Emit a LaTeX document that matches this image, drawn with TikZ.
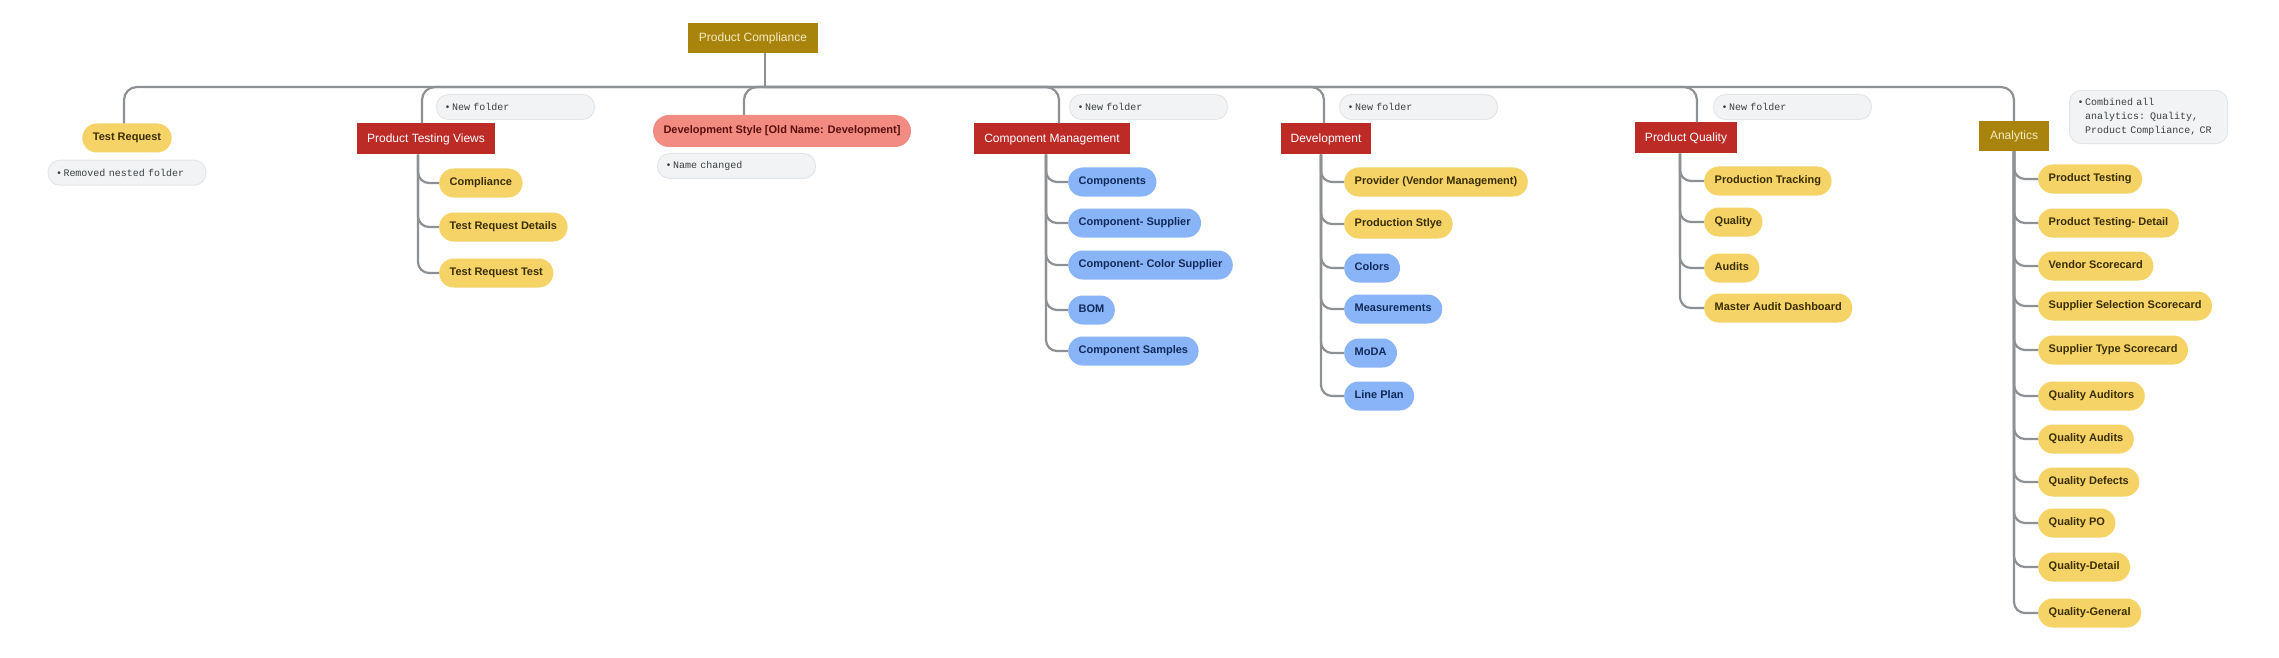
\documentclass[tikz,border=0pt]{standalone}
\usepackage{fontspec}
\setmainfont{Liberation Sans}
\setmonofont{Liberation Mono}
\usetikzlibrary{positioning}

\definecolor{rootgold}{HTML}{A8840C}
\definecolor{roottext}{HTML}{F6EBC2}
\definecolor{folderred}{HTML}{BC2B26}
\definecolor{leafyellow}{HTML}{F5D366}
\definecolor{leafytext}{HTML}{3A2E00}
\definecolor{leafblue}{HTML}{8AB4F8}
\definecolor{leafbtext}{HTML}{102A5A}
\definecolor{leafsalmon}{HTML}{F28B82}
\definecolor{leafrtext}{HTML}{5B100C}
\definecolor{notegrey}{HTML}{F1F3F4}
\definecolor{noteedge}{HTML}{E3E6E8}
\definecolor{notetext}{HTML}{3C4043}
\definecolor{linegrey}{HTML}{8E9194}

\newcommand{\nbul}{•\kern1.5pt}

\begin{document}
\begin{tikzpicture}[x=1pt,y=-1pt,
  conn/.style={draw=linegrey,line width=2.2pt},
  rootbox/.style={rectangle,fill=rootgold,text=roottext,minimum height=30pt,inner xsep=11pt,inner ysep=2pt,font=\fontsize{12}{14}\selectfont,text height=8.6pt,text depth=2.5pt},
  folderbox/.style={rectangle,fill=folderred,text=white,minimum height=31pt,inner xsep=10pt,inner ysep=2pt,font=\fontsize{12}{14}\selectfont,text height=8.6pt,text depth=2.5pt},
  leafy/.style={rectangle,rounded corners=14.5pt,fill=leafyellow,text=leafytext,minimum height=29pt,inner xsep=10.5pt,inner ysep=2pt,font=\bfseries\fontsize{11}{13}\selectfont,text height=8pt,text depth=2.3pt},
  leafb/.style={leafy,fill=leafblue,text=leafbtext},
  leafr/.style={leafy,fill=leafsalmon,text=leafrtext,minimum height=32pt,rounded corners=16pt},
  note/.style={rectangle,rounded corners=12pt,fill=notegrey,draw=noteedge,line width=1pt,text=notetext,text width=142pt,align=left,inner xsep=8pt,inner ysep=4pt,minimum height=25pt,font=\ttfamily\fontsize{10}{14}\selectfont}]
\fill[white] (0,0) rectangle (2279,658);
\useasboundingbox (0,0) rectangle (2279,658);

% top level
\node[rootbox] (root) at (753,38) {Product Compliance};
\node[leafy] (tr) at (127,138) {Test Request};
\node[folderbox] (ptv) at (426,139) {Product Testing Views};
\node[leafr] (dst) at (782,131) {Development Style [Old Name: Development]};
\node[folderbox] (cm) at (1052,139) {Component Management};
\node[folderbox] (dev) at (1326,139) {Development};
\node[folderbox] (pq) at (1686,138) {Product Quality};
\node[rootbox] (an) at (2014,136) {Analytics};

% notes
\node[note, below=7pt of tr] (trnote) {\nbul Removed nested folder};
\node[note, anchor=west] (ptvnote) at (436,107) {\nbul New folder};
\node[note, anchor=west] (dstnote) at (657,166) {\nbul Name changed};
\node[note, anchor=west] (cmnote) at (1069,107) {\nbul New folder};
\node[note, anchor=west] (devnote) at (1339,107) {\nbul New folder};
\node[note, anchor=west] (pqnote) at (1713,107) {\nbul New folder};
\node[note, anchor=west, inner ysep=8pt] (annote) at (2069,117) {\nbul Combined all\\\hspace*{7.5pt}analytics: Quality,\\\hspace*{7.5pt}Product Compliance, CR};

% Product Testing Views
\node[leafy, anchor=west] (ptv1) at (439,183) {Compliance};
\node[leafy, anchor=west] (ptv2) at (439,227) {Test Request Details};
\node[leafy, anchor=west] (ptv3) at (439,273) {Test Request Test};

% Component Management
\node[leafb, anchor=west] (cm1) at (1068,182) {Components};
\node[leafb, anchor=west] (cm2) at (1068,223) {Component- Supplier};
\node[leafb, anchor=west] (cm3) at (1068,265) {Component- Color Supplier};
\node[leafb, anchor=west] (cm4) at (1068,310) {BOM};
\node[leafb, anchor=west] (cm5) at (1068,351) {Component Samples};

% Development
\node[leafy, anchor=west] (dev1) at (1344,182) {Provider (Vendor Management)};
\node[leafy, anchor=west] (dev2) at (1344,224) {Production Stlye};
\node[leafb, anchor=west] (dev3) at (1344,268) {Colors};
\node[leafb, anchor=west] (dev4) at (1344,309) {Measurements};
\node[leafb, anchor=west] (dev5) at (1344,353) {MoDA};
\node[leafb, anchor=west] (dev6) at (1344,396) {Line Plan};

% Product Quality
\node[leafy, anchor=west] (pq1) at (1704,181) {Production Tracking};
\node[leafy, anchor=west] (pq2) at (1704,222) {Quality};
\node[leafy, anchor=west] (pq3) at (1704,268) {Audits};
\node[leafy, anchor=west] (pq4) at (1704,308) {Master Audit Dashboard};

% Analytics
\node[leafy, anchor=west] (an1) at (2038,179) {Product Testing};
\node[leafy, anchor=west] (an2) at (2038,223) {Product Testing- Detail};
\node[leafy, anchor=west] (an3) at (2038,266) {Vendor Scorecard};
\node[leafy, anchor=west] (an4) at (2038,306) {Supplier Selection Scorecard};
\node[leafy, anchor=west] (an5) at (2038,350) {Supplier Type Scorecard};
\node[leafy, anchor=west] (an6) at (2038,396) {Quality Auditors};
\node[leafy, anchor=west] (an7) at (2038,439) {Quality Audits};
\node[leafy, anchor=west] (an8) at (2038,482) {Quality Defects};
\node[leafy, anchor=west] (an9) at (2038,523) {Quality PO};
\node[leafy, anchor=west] (an10) at (2038,567) {Quality-Detail};
\node[leafy, anchor=west] (an11) at (2038,613) {Quality-General};

% bus
\coordinate (hub) at (765,87);
\draw[conn] ([xshift=12pt]root.south) -- (hub);
\draw[conn,rounded corners=13pt] (hub) -| ([xshift=-3pt]tr.north);
\draw[conn,rounded corners=13pt] (hub) -| ([xshift=-4pt]ptv.north);
\draw[conn,rounded corners=13pt] (hub) -| ([xshift=-38pt]dst.north);
\draw[conn,rounded corners=13pt] (hub) -| ([xshift=7pt]cm.north);
\draw[conn,rounded corners=13pt] (hub) -| ([xshift=-2pt]dev.north);
\draw[conn,rounded corners=13pt] (hub) -| ([xshift=11pt]pq.north);
\draw[conn,rounded corners=13pt] (hub) -| (an.north);

% children
\draw[conn,rounded corners=11pt] ([xshift=-8pt]ptv.south) |- (ptv1.west);
\draw[conn,rounded corners=11pt] ([xshift=-8pt]ptv.south) |- (ptv2.west);
\draw[conn,rounded corners=11pt] ([xshift=-8pt]ptv.south) |- (ptv3.west);

\draw[conn,rounded corners=11pt] ([xshift=-6pt]cm.south) |- (cm1.west);
\draw[conn,rounded corners=11pt] ([xshift=-6pt]cm.south) |- (cm2.west);
\draw[conn,rounded corners=11pt] ([xshift=-6pt]cm.south) |- (cm3.west);
\draw[conn,rounded corners=11pt] ([xshift=-6pt]cm.south) |- (cm4.west);
\draw[conn,rounded corners=11pt] ([xshift=-6pt]cm.south) |- (cm5.west);

\draw[conn,rounded corners=11pt] ([xshift=-5pt]dev.south) |- (dev1.west);
\draw[conn,rounded corners=11pt] ([xshift=-5pt]dev.south) |- (dev2.west);
\draw[conn,rounded corners=11pt] ([xshift=-5pt]dev.south) |- (dev3.west);
\draw[conn,rounded corners=11pt] ([xshift=-5pt]dev.south) |- (dev4.west);
\draw[conn,rounded corners=11pt] ([xshift=-5pt]dev.south) |- (dev5.west);
\draw[conn,rounded corners=11pt] ([xshift=-5pt]dev.south) |- (dev6.west);

\draw[conn,rounded corners=11pt] ([xshift=-6pt]pq.south) |- (pq1.west);
\draw[conn,rounded corners=11pt] ([xshift=-6pt]pq.south) |- (pq2.west);
\draw[conn,rounded corners=11pt] ([xshift=-6pt]pq.south) |- (pq3.west);
\draw[conn,rounded corners=11pt] ([xshift=-6pt]pq.south) |- (pq4.west);

\draw[conn,rounded corners=11pt] (an.south) |- (an1.west);
\draw[conn,rounded corners=11pt] (an.south) |- (an2.west);
\draw[conn,rounded corners=11pt] (an.south) |- (an3.west);
\draw[conn,rounded corners=11pt] (an.south) |- (an4.west);
\draw[conn,rounded corners=11pt] (an.south) |- (an5.west);
\draw[conn,rounded corners=11pt] (an.south) |- (an6.west);
\draw[conn,rounded corners=11pt] (an.south) |- (an7.west);
\draw[conn,rounded corners=11pt] (an.south) |- (an8.west);
\draw[conn,rounded corners=11pt] (an.south) |- (an9.west);
\draw[conn,rounded corners=11pt] (an.south) |- (an10.west);
\draw[conn,rounded corners=11pt] (an.south) |- (an11.west);

\end{tikzpicture}
\end{document}
